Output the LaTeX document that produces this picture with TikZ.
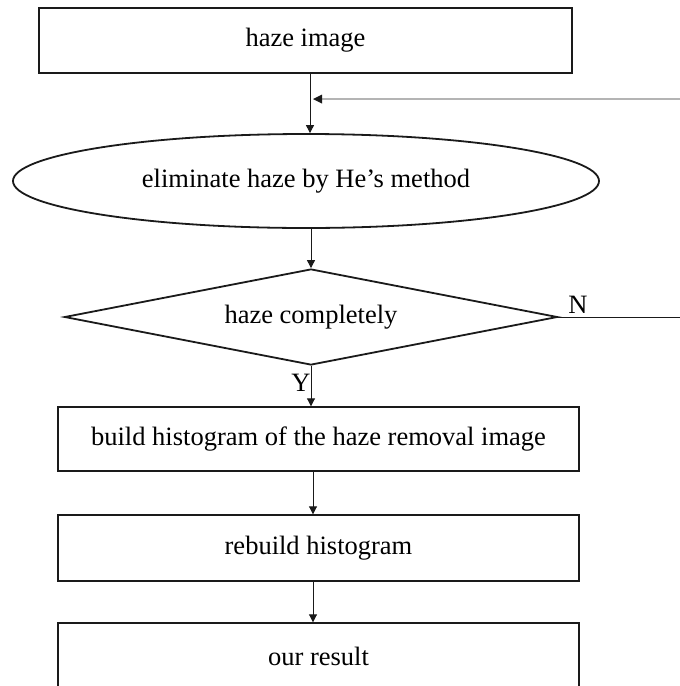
\documentclass[tikz,border=0pt]{standalone}
\usepackage{fontspec}
\setmainfont{Liberation Serif}
\usetikzlibrary{shapes.geometric,arrows.meta}
\definecolor{ink}{HTML}{1A1A1A}
\definecolor{fbgray}{HTML}{B4B4B4}
\tikzset{
  boxnode/.style={draw=ink, line width=1.4pt, inner sep=0pt, font=\fontsize{26.5}{30}\selectfont},
  ellnode/.style={draw=ink, ellipse, line width=1.8pt, inner sep=0pt, font=\fontsize{26.5}{30}\selectfont},
  dianode/.style={draw=ink, diamond, aspect=5, line width=1.8pt, inner sep=0pt, font=\fontsize{26.5}{30}\selectfont},
  lbl/.style={inner sep=0pt, font=\fontsize{26.5}{30}\selectfont},
  arr/.style={draw=ink, line width=0.9pt, -{Triangle[length=8pt,width=8pt]}},
  fbline/.style={draw=fbgray, line width=2pt},
  plainline/.style={draw=ink, line width=0.9pt}
}
\begin{document}
\begin{tikzpicture}[x=1pt,y=-1pt]
\useasboundingbox (0,0) rectangle (680,686);
\clip (0,0) rectangle (680,686);
\fill[white] (0,0) rectangle (680,686);

\node[boxnode, minimum width=533pt, minimum height=65pt] (b1) at (305.5,40.5) {haze image};
\node[ellnode, minimum width=586pt, minimum height=94pt] (el) at (306,181) {eliminate haze by He’s method};
\node[dianode, minimum width=493pt, minimum height=96pt] (dm) at (311,317) {haze completely};
\node[boxnode, minimum width=521pt, minimum height=64pt] (b2) at (318.5,439) {build histogram of the haze removal image};
\node[boxnode, minimum width=521pt, minimum height=66pt] (b3) at (318.5,548) {rebuild histogram};
\node[boxnode, minimum width=521pt, minimum height=66pt] (b4) at (318.5,656) {our result};

\coordinate (c1) at (310,0);
\coordinate (c2) at (313,0);
\coordinate (fbR) at (680,99);
\coordinate (fbL) at (322,99);
\coordinate (fbT) at (313,99);
\coordinate (nR) at (680,317);

\draw[arr] (b1.south -| c1) -- (el.north -| c1);
\draw[arr] (el.south -| dm.north) -- (dm.north);
\draw[arr] (dm.south) -- (dm.south |- b2.north);
\draw[arr] (b2.south -| c2) -- (b3.north -| c2);
\draw[arr] (b3.south -| c2) -- (b4.north -| c2);

\draw[fbline] (fbR) -- (fbL);
\fill[ink] (fbT) -- ++(9,-4.5) -- ++(0,9) -- cycle;

\draw[plainline] (dm.east) -- (nR);
\node[lbl] (N) at (578,305) {N};
\node[lbl] (Y) at (301,383) {Y};
\end{tikzpicture}
\end{document}
